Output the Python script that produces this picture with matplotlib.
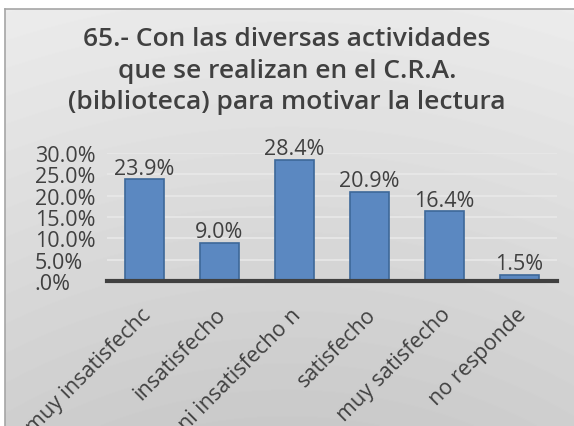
import numpy as np
import matplotlib
matplotlib.use('Agg')
from matplotlib import pyplot as plt
from matplotlib.ticker import FuncFormatter
from matplotlib.transforms import ScaledTranslation

categories = ["muy insatisfechc", "insatisfecho", "ni insatisfecho n", "satisfecho",
              "muy satisfecho", "no responde"]
values = [23.9, 9.0, 28.4, 20.9, 16.4, 1.5]
yticks = [0, 5, 10, 15, 20, 25, 30]
title = "65.- Con las diversas actividades\nque se realizan en el C.R.A.\n(biblioteca) para motivar la lectura"

plt.rcParams['font.family'] = ['Open Sans', 'DejaVu Sans']
text_color = '#404040'
W, H = 574, 427

fig = plt.figure(figsize=(W / 100, H / 100), dpi=100)
fig.patch.set_facecolor('white')

# chart area: grey radial fill with a thin border, starting a few px in
x0, y0 = 5, 10
bg = fig.add_axes([x0 / W, 0, 1 - x0 / W, 1 - y0 / H], zorder=-10)
yy, xx = np.mgrid[y0:H, x0:W]
d = np.sqrt((xx - 287.0) ** 2 + (yy - 900.0) ** 2)
shade = 0.79 + 0.14 * np.clip((d - 473) / (944 - 473), 0, 1)
bg.imshow(shade, cmap='gray', vmin=0, vmax=1, aspect='auto', extent=[0, 1, 0, 1])
bg.set_xticks([])
bg.set_yticks([])
for s in ['bottom', 'right']:
    bg.spines[s].set_visible(False)
for s in ['top', 'left']:
    bg.spines[s].set_color('#a6a6a6')
    bg.spines[s].set_linewidth(1.2)

ax = fig.add_axes([107 / W, 1 - 282 / H, 450 / W, 128 / H])
ax.patch.set_alpha(0)
x = np.arange(len(categories))
bars = ax.bar(x, values, width=0.51, color='#5b88c1', edgecolor='#3d6899', linewidth=1.2, zorder=3)
for xi, v in zip(x, values):
    ax.text(xi, v + 0.1, f"{v:.1f}%", ha='center', va='bottom', fontsize=15.5,
            color=text_color, clip_on=False)

ax.set_xlim(-0.5, len(categories) - 0.5)
ax.set_ylim(0, 30)
ax.set_yticks(yticks)
ax.yaxis.set_major_formatter(FuncFormatter(lambda v, p: ".0%" if v == 0 else f"{v:.1f}%"))
ax.grid(axis='y', color='#e8e8e8', linewidth=1.2, zorder=0)
for s in ['top', 'right', 'left']:
    ax.spines[s].set_visible(False)
ax.spines['bottom'].set_color('#404040')
ax.spines['bottom'].set_linewidth(3)
ax.spines['bottom'].set_zorder(4)
ax.tick_params(axis='both', length=0, labelsize=15.5, labelcolor=text_color)
ax.tick_params(axis='y', pad=52)
for lab in ax.get_yticklabels():
    lab.set_horizontalalignment('left')

ax.set_xticks(x)
ax.set_xticklabels(categories, rotation=45, ha='right', rotation_mode='anchor')
ax.tick_params(axis='x', pad=12)
shift = ScaledTranslation(-4 / 100, -6 / 100, fig.dpi_scale_trans)
for lab in ax.get_xticklabels():
    lab.set_transform(lab.get_transform() + shift)

fig.text(0.5, 1 - 71 / H, title, ha='center', va='center', fontsize=19, fontweight='semibold',
         color=text_color, linespacing=1.35)

fig.savefig('out.png', dpi=100)
